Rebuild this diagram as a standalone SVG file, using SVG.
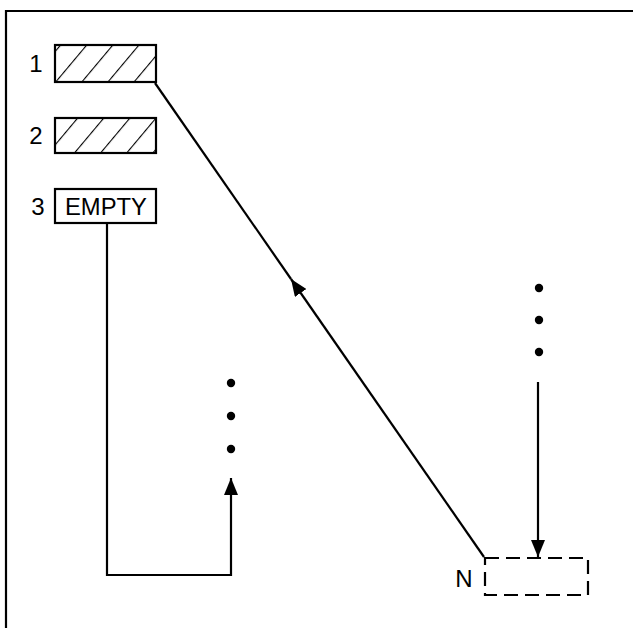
<svg xmlns="http://www.w3.org/2000/svg" width="633" height="628" viewBox="0 0 633 628">
<style>
.ln{fill:none;stroke:#000;stroke-width:2.2}
.box{fill:none;stroke:#000;stroke-width:2.2}
.t{font-family:"Liberation Sans",Arial,sans-serif;font-size:24px;fill:#000}
.dot{fill:#000}
</style>
<defs>
<pattern id="hatch" patternUnits="userSpaceOnUse" width="20" height="10" patternTransform="translate(55,82) rotate(40)">
<line x1="0" y1="0" x2="0" y2="10" stroke="#000" stroke-width="2.2"/>
</pattern>
<marker id="arr" markerUnits="userSpaceOnUse" markerWidth="18" markerHeight="14" refX="17" refY="7" orient="auto">
<path d="M0,0 L17,7 L0,14 z" fill="#000"/>
</marker>
</defs>
<rect width="633" height="628" fill="#fff"/>
<g id="frame">
<path class="ln" d="M6,628 V11 H633" stroke-width="2.5"/>
</g>
<g id="node1">
<rect x="55" y="45" width="101" height="37" fill="url(#hatch)"/>
<rect class="box" x="55" y="45" width="101" height="37"/>
<text class="t" x="36" y="72" text-anchor="middle">1</text>
</g>
<g id="node2">
<rect x="55" y="118" width="101" height="35" fill="url(#hatch)"/>
<rect class="box" x="55" y="118" width="101" height="35"/>
<text class="t" x="36" y="144" text-anchor="middle">2</text>
</g>
<g id="node3">
<rect class="box" x="55" y="189" width="101" height="34"/>
<text class="t" x="38" y="215" text-anchor="middle">3</text>
<text class="t" x="106" y="215" text-anchor="middle" textLength="82" lengthAdjust="spacingAndGlyphs">EMPTY</text>
</g>
<g id="nodeN">
<rect class="box" x="485" y="558" width="103" height="37" stroke-dasharray="14,7"/>
<text class="t" x="464" y="587" text-anchor="middle" font-size="21">N</text>
</g>
<g id="dots">
<circle class="dot" cx="231" cy="383" r="4.2"/>
<circle class="dot" cx="231" cy="416" r="4.2"/>
<circle class="dot" cx="231" cy="449" r="4.2"/>
<circle class="dot" cx="539" cy="288" r="4.2"/>
<circle class="dot" cx="539" cy="320" r="4.2"/>
<circle class="dot" cx="539" cy="352" r="4.2"/>
</g>
<g id="connectors">
<path class="ln" d="M484,557 L291,279" marker-end="url(#arr)"/>
<path class="ln" d="M291,279 L155,83"/>
<path class="ln" d="M538,382 V557" marker-end="url(#arr)"/>
<path class="ln" d="M107,223 V575 H231 V478" marker-end="url(#arr)"/>
</g>
</svg>
